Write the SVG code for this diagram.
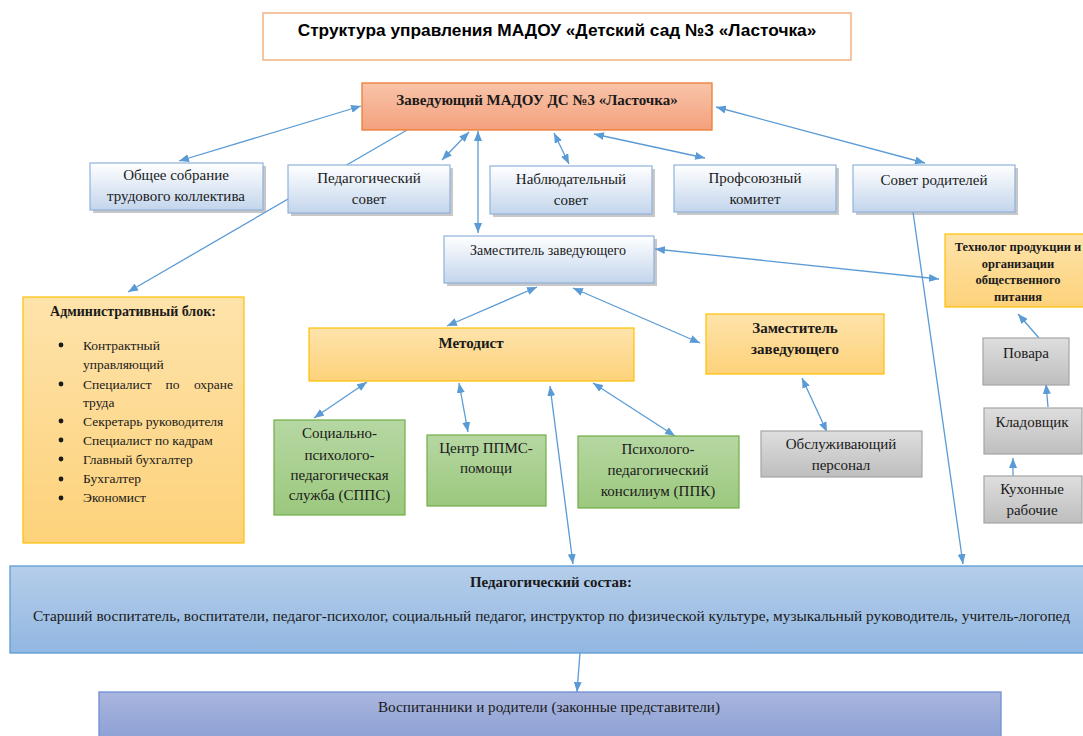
<svg xmlns="http://www.w3.org/2000/svg" width="1083" height="736" viewBox="0 0 1083 736">
<defs>
<linearGradient id="gBlue" x1="0" y1="0" x2="0" y2="1"><stop offset="0" stop-color="#ffffff"/><stop offset="1" stop-color="#c3d5ec"/></linearGradient>
<linearGradient id="gHead" x1="0" y1="0" x2="0" y2="1"><stop offset="0" stop-color="#f8c4aa"/><stop offset="1" stop-color="#f4a17d"/></linearGradient>
<linearGradient id="gOrange" x1="0" y1="0" x2="0" y2="1"><stop offset="0" stop-color="#fee3ab"/><stop offset="1" stop-color="#fdd27a"/></linearGradient>
<linearGradient id="gGreen" x1="0" y1="0" x2="0" y2="1"><stop offset="0" stop-color="#b6d7a2"/><stop offset="1" stop-color="#9bc87e"/></linearGradient>
<linearGradient id="gGray" x1="0" y1="0" x2="0" y2="1"><stop offset="0" stop-color="#dedede"/><stop offset="1" stop-color="#bebebe"/></linearGradient>
<linearGradient id="gPed" x1="0" y1="0" x2="0" y2="1"><stop offset="0" stop-color="#b5ceea"/><stop offset="1" stop-color="#92b7e1"/></linearGradient>
<linearGradient id="gVosp" x1="0" y1="0" x2="0" y2="1"><stop offset="0" stop-color="#aab6de"/><stop offset="1" stop-color="#8a9fd4"/></linearGradient>
<marker id="ah" viewBox="0 0 10 8" markerWidth="10" markerHeight="8" refX="10" refY="4" orient="auto-start-reverse" markerUnits="userSpaceOnUse"><path d="M0,0 L10,4 L0,8 z" fill="#5b9bd5"/></marker>
<style>
.t{font-family:'Liberation Serif','Times New Roman','DejaVu Serif',serif;fill:#1a1a1a;}
.c{text-anchor:middle;}
.b{font-weight:bold;}
.s15{font-size:15px;}
.s14{font-size:14px;}
.s13{font-size:13.5px;}
.blue{fill:url(#gBlue);stroke:#8fb1dc;stroke-width:1.2;}
.sh{fill:#9a9a9a;opacity:0.55;}
.orange{fill:url(#gOrange);stroke:#ffc000;stroke-width:1.2;}
.green{fill:url(#gGreen);stroke:#70ad47;stroke-width:1.2;}
.gray{fill:url(#gGray);stroke:#a5a5a5;stroke-width:1.2;}
.ln{stroke:#5b9bd5;stroke-width:1.3;fill:none;}
.d{marker-start:url(#ah);marker-end:url(#ah);}
.e{marker-end:url(#ah);}
</style>
</defs>
<rect width="1083" height="736" fill="#ffffff"/>

<g id="connectors">
<path class="ln d" d="M361,106 L179,161"/>
<path class="ln e" d="M407,130 L128,292"/>
<path class="ln d" d="M469,132 L442,160"/>
<path class="ln d" d="M478,131 L478,233"/>
<path class="ln d" d="M554,133 L569,164"/>
<path class="ln d" d="M594,134 L705,158"/>
<path class="ln d" d="M716,107 L925,163"/>
<path class="ln e" d="M913,212 L963,564"/>
<path class="ln d" d="M655,249 L939,279"/>
<path class="ln d" d="M537,287 L447,326"/>
<path class="ln d" d="M573,288 L700,343"/>
<path class="ln d" d="M367,382 L314,418"/>
<path class="ln d" d="M459,383 L468,432"/>
<path class="ln d" d="M550,386 L573,564"/>
<path class="ln d" d="M593,383 L675,436"/>
<path class="ln d" d="M802,378 L827,432"/>
<path class="ln e" d="M1039,338 L1018,314"/>
<path class="ln e" d="M1048,407 L1046,384"/>
<path class="ln e" d="M1013,476 L1013,458"/>
<path class="ln e" d="M580,653 L577,692"/>
</g>

<g id="title">
<rect x="263" y="13" width="588" height="47" fill="#ffffff" stroke="#f4b183" stroke-width="1.5"/>
<text x="557" y="36" font-family="'Liberation Sans',Arial,sans-serif" font-weight="bold" font-size="17.3" text-anchor="middle" fill="#000">Структура управления МАДОУ «Детский сад №3 «Ласточка»</text>
</g>

<g id="head">
<rect x="362" y="83" width="350" height="47" fill="url(#gHead)" stroke="#ed7d31" stroke-width="1.3"/>
<text class="t c b s15" x="537" y="105">Заведующий МАДОУ ДС №3 «Ласточка»</text>
</g>

<g id="obshee">
<rect class="sh" x="93" y="166" width="173" height="47"/>
<rect class="blue" x="90" y="163" width="173" height="47"/>
<text class="t c s15" x="176" y="180">Общее собрание</text>
<text class="t c s15" x="176" y="201">трудового коллектива</text>
</g>

<g id="pedsovet">
<rect class="sh" x="291" y="168" width="162" height="48"/>
<rect class="blue" x="288" y="165" width="162" height="48"/>
<text class="t c s15" x="369" y="183">Педагогический</text>
<text class="t c s15" x="369" y="204">совет</text>
</g>

<g id="nabl">
<rect class="sh" x="493" y="169" width="162" height="48"/>
<rect class="blue" x="490" y="166" width="162" height="48"/>
<text class="t c s15" x="571" y="184">Наблюдательный</text>
<text class="t c s15" x="571" y="205">совет</text>
</g>

<g id="prof">
<rect class="sh" x="677" y="168" width="162" height="47"/>
<rect class="blue" x="674" y="165" width="162" height="47"/>
<text class="t c s15" x="755" y="183">Профсоюзный</text>
<text class="t c s15" x="755" y="204">комитет</text>
</g>

<g id="roditeli">
<rect class="sh" x="856" y="168" width="162" height="47"/>
<rect class="blue" x="853" y="165" width="162" height="47"/>
<text class="t c s15" x="934" y="185">Совет родителей</text>
</g>

<g id="zam">
<rect class="sh" x="447" y="239" width="210" height="47"/>
<rect class="blue" x="444" y="236" width="210" height="47"/>
<text class="t c s14" x="548" y="255">Заместитель заведующего</text>
</g>

<g id="tehnolog">
<rect class="orange" x="945" y="234" width="146" height="73"/>
<text class="t c b" font-size="12.5" x="1018" y="251">Технолог продукции и</text>
<text class="t c b" font-size="12.5" x="1018" y="267.5">организации</text>
<text class="t c b" font-size="12.5" x="1018" y="284">общественного</text>
<text class="t c b" font-size="12.5" x="1018" y="300.5">питания</text>
</g>

<g id="admin">
<rect class="orange" x="23" y="297" width="221" height="246"/>
<text class="t c b s14" x="133" y="316">Административный блок:</text>
<g fill="#1a1a1a">
<circle cx="61" cy="345" r="2.4"/>
<circle cx="61" cy="384" r="2.4"/>
<circle cx="61" cy="421" r="2.4"/>
<circle cx="61" cy="440" r="2.4"/>
<circle cx="61" cy="459" r="2.4"/>
<circle cx="61" cy="479" r="2.4"/>
<circle cx="61" cy="498" r="2.4"/>
</g>
<text class="t s13" x="83" y="349.5">Контрактный</text>
<text class="t s13" x="83" y="369">управляющий</text>
<text class="t s13" x="83" y="388.5">Специалист</text>
<text class="t s13" x="172.5" y="388.5" text-anchor="middle">по</text>
<text class="t s13" x="233" y="388.5" text-anchor="end">охране</text>
<text class="t s13" x="83" y="406.5">труда</text>
<text class="t s13" x="83" y="425.5">Секретарь руководителя</text>
<text class="t s13" x="83" y="444.5">Специалист по кадрам</text>
<text class="t s13" x="83" y="463.5">Главный бухгалтер</text>
<text class="t s13" x="83" y="483">Бухгалтер</text>
<text class="t s13" x="83" y="502">Экономист</text>
</g>

<g id="metodist">
<rect class="orange" x="309" y="328" width="325" height="53"/>
<text class="t c b s15" x="471" y="348">Методист</text>
</g>

<g id="zam2">
<rect class="orange" x="706" y="314" width="178" height="60"/>
<text class="t c b s15" x="795" y="333">Заместитель</text>
<text class="t c b s15" x="795" y="354">заведующего</text>
</g>

<g id="povara">
<rect class="gray" x="983" y="338" width="86" height="47"/>
<text class="t c s15" x="1026" y="358">Повара</text>
</g>

<g id="spps">
<rect class="green" x="274" y="420" width="131" height="95"/>
<text class="t c s15" x="339.5" y="438">Социально-</text>
<text class="t c s15" x="339.5" y="459.5">психолого-</text>
<text class="t c s15" x="339.5" y="480">педагогическая</text>
<text class="t c s15" x="339.5" y="500">служба (СППС)</text>
</g>

<g id="ppms">
<rect class="green" x="427" y="435" width="119" height="71"/>
<text class="t c s15" x="486" y="453">Центр ППМС-</text>
<text class="t c s15" x="486" y="473">помощи</text>
</g>

<g id="ppk">
<rect class="green" x="578" y="436" width="161" height="72"/>
<text class="t c s15" x="658" y="454">Психолого-</text>
<text class="t c s15" x="658" y="475">педагогический</text>
<text class="t c s15" x="658" y="496">консилиум (ППК)</text>
</g>

<g id="obsl">
<rect class="gray" x="761" y="431" width="161" height="46"/>
<text class="t c s15" x="841" y="449">Обслуживающий</text>
<text class="t c s15" x="841" y="470">персонал</text>
</g>

<g id="kladov">
<rect class="gray" x="984" y="408" width="98" height="46"/>
<text class="t c s15" x="1032" y="427">Кладовщик</text>
</g>

<g id="kuhon">
<rect class="gray" x="984" y="476" width="98" height="47"/>
<text class="t c s15" x="1032" y="494">Кухонные</text>
<text class="t c s15" x="1032" y="515">рабочие</text>
</g>

<g id="pedsostav">
<rect x="10" y="566" width="1080" height="87" fill="url(#gPed)" stroke="#5b9bd5" stroke-width="1.3"/>
<text class="t c b s14" x="551" y="587" textLength="162" lengthAdjust="spacingAndGlyphs">Педагогический состав:</text>
<text class="t c s15" x="551.5" y="621" textLength="1037" lengthAdjust="spacingAndGlyphs">Старший воспитатель, воспитатели, педагог-психолог, социальный педагог, инструктор по физической культуре, музыкальный руководитель, учитель-логопед</text>
</g>

<g id="vosp">
<rect x="99" y="692" width="902" height="50" fill="url(#gVosp)" stroke="#6f8fd6" stroke-width="1.3"/>
<text class="t c s14" x="549" y="712" textLength="342" lengthAdjust="spacingAndGlyphs">Воспитанники и родители (законные представители)</text>
</g>
</svg>
